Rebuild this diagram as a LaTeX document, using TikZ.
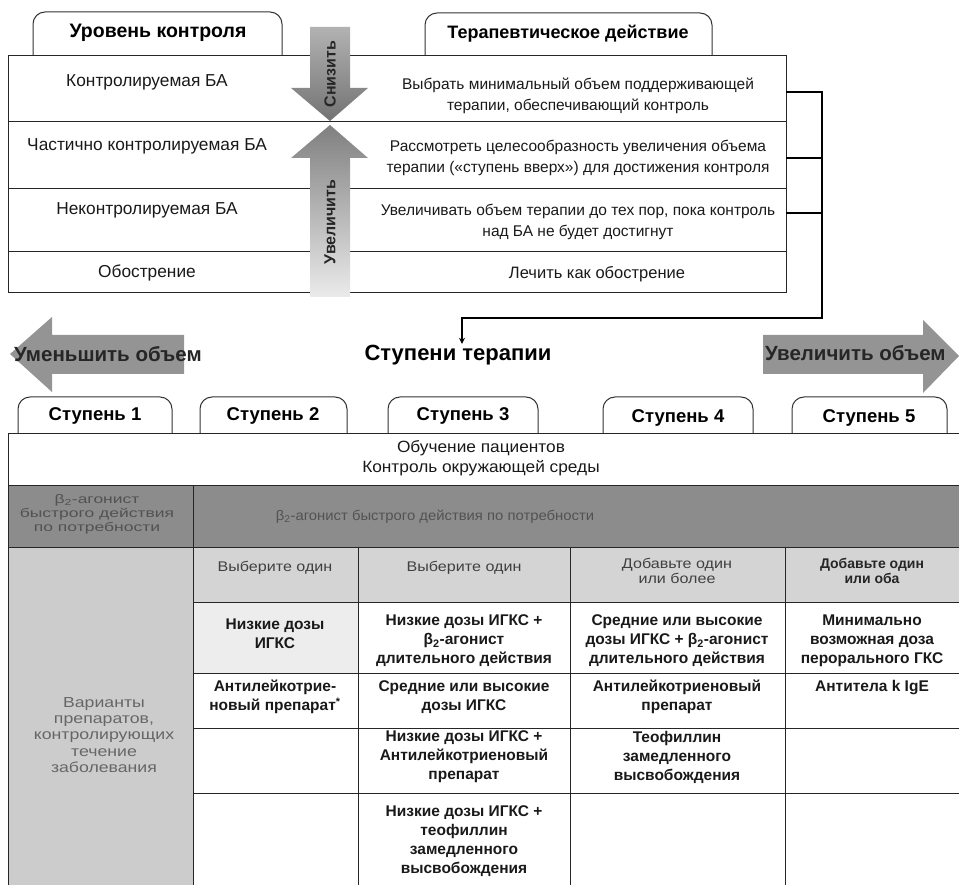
\documentclass[tikz,border=0pt]{standalone}
\usepackage{fontspec}
\setmainfont{Liberation Sans}
\newfontfamily\fwide[FakeStretch=1.4]{Liberation Sans}
\newfontfamily\fvar[FakeStretch=1.22]{Liberation Sans}
\newfontfamily\fhdr[FakeStretch=1.15]{Liberation Sans}
\newfontfamily\fmid[FakeStretch=1.06]{Liberation Sans}
\usetikzlibrary{arrows.meta}
\begin{document}
\begin{tikzpicture}[x=1pt,y=-1pt,
  tline/.style={draw=black!85, line width=1pt},
  tabbox/.style={draw=black!80, line width=1pt, rounded corners=12pt},
  toptxt/.style={font=\fontsize{15.5}{20.5}\selectfont, align=center, inner sep=0pt, text=black!90},
  lefttxt/.style={font=\fontsize{17.3}{20.5}\selectfont, align=center, inner sep=0pt, text=black!90},
  tabtxt/.style={font=\bfseries\fontsize{18}{20}\selectfont, inner sep=0pt},
  steptxt/.style={font=\bfseries\fontsize{18.5}{20}\selectfont, inner sep=0pt},
  celltxt/.style={font=\bfseries\fontsize{15.5}{19}\selectfont, align=center, inner sep=0pt, text=black!90},
  hdrtxt/.style={font=\fhdr\fontsize{14}{14.5}\selectfont, align=center, inner sep=0pt, text=black!75},
  arrtxt/.style={font=\bfseries\fontsize{20.5}{22}\selectfont, inner sep=0pt, text=black!85},
  midtxt/.style={font=\bfseries\fontsize{16}{18}\selectfont, inner sep=0pt, text=black!85, rotate=90},
  link/.style={draw=black, line width=1.3pt},
]
\useasboundingbox (0,0) rectangle (959,885);

% ---------- top table ----------
\draw[tabbox] (33,56) -- (33,12) -- (282,12) -- (282,56);
\draw[tabbox] (425,56) -- (425,13) -- (712,13) -- (712,56);
\node[tabtxt, font=\bfseries\fontsize{19.5}{20}\selectfont] (tabL) at (158,33) {Уровень контроля};
\node[tabtxt] (tabR) at (568,34) {Терапевтическое действие};

\draw[tline] (8,56) rectangle (786,293);
\foreach \y in {122,189,252} \draw[tline] (8,\y) -- (786,\y);

\node[lefttxt] (l1) at (147,82) {Контролируемая БА};
\node[lefttxt] (l2) at (147,146) {Частично контролируемая БА};
\node[lefttxt] (l3) at (147,210) {Неконтролируемая БА};
\node[lefttxt] (l4) at (147,273) {Обострение};

\node[toptxt] (r1) at (578,96) {Выбрать минимальный объем поддерживающей\\терапии, обеспечивающий контроль};
\node[toptxt] (r2) at (578,158) {Рассмотреть целесообразность увеличения объема\\терапии («ступень вверх») для достижения контроля};
\node[toptxt] (r3) at (578,222) {Увеличивать объем терапии до тех пор, пока контроль\\над БА не будет достигнут};
\node[toptxt, font=\fontsize{16.5}{20.5}\selectfont] (r4) at (597,274) {Лечить как обострение};

% middle arrows
\shade[top color=black!30, bottom color=black!55] (310,27) -- (350,27) -- (350,88) -- (368,88) -- (330,121) -- (291,88) -- (310,88) -- cycle;
\shade[top color=black!50, bottom color=black!8] (330,125) -- (368,158) -- (350,158) -- (350,297) -- (310,297) -- (310,158) -- (291,158) -- cycle;
\node[midtxt] (dn) at (330,74) {Снизить};
\node[midtxt] (up) at (330,222) {Увеличить};

% bracket connector
\coordinate (s1) at (786,92);
\coordinate (s2) at (786,158);
\coordinate (s3) at (786,213);
\coordinate (k1) at (822,92);
\coordinate (k2) at (822,158);
\coordinate (k3) at (822,213);
\coordinate (kb) at (822,318);
\coordinate (kt) at (462,318);

\node[font=\bfseries\fontsize{22}{24}\selectfont, inner sep=1pt] (st) at (458,355) {Ступени терапии};

\draw[link] (s2) -- (k2);
\draw[link] (s3) -- (k3);
\draw[link, -{Stealth[length=6pt,width=6pt]}] (s1) -- (k1) -- (kb) -- (kt) -- (kt |- st.north);

% big side arrows
\fill[black!42] (184,335) -- (52,335) -- (52,317) -- (10,354) -- (52,392) -- (52,374) -- (184,374) -- cycle;
\fill[black!42] (763,335) -- (923,335) -- (923,320) -- (959,356) -- (923,393) -- (923,374) -- (763,374) -- cycle;
\node[arrtxt, anchor=west] (dec) at (14,354) {Уменьшить объем};
\node[arrtxt, anchor=west] (inc) at (765,353) {Увеличить объем};

% ---------- step tabs ----------
\draw[tabbox] (18,433) -- (18,397) -- (172,397) -- (172,433);
\draw[tabbox] (200,433) -- (200,397) -- (347,397) -- (347,433);
\draw[tabbox] (388,433) -- (388,397) -- (538,397) -- (538,433);
\draw[tabbox] (603,433) -- (603,397) -- (753,397) -- (753,433);
\draw[tabbox] (792,433) -- (792,397) -- (947,397) -- (947,433);
\node[steptxt] (t1) at (95,416) {Ступень 1};
\node[steptxt] (t2) at (273,416) {Ступень 2};
\node[steptxt] (t3) at (463,416) {Ступень 3};
\node[steptxt] (t4) at (678,418) {Ступень 4};
\node[steptxt] (t5) at (869,418) {Ступень 5};

% ---------- bottom table ----------
\fill[black!45] (8,485) rectangle (959,547);
\fill[black!20] (8,547) rectangle (193,885);
\fill[black!17] (193,547) rectangle (959,602);
\fill[black!7] (193,602) rectangle (358,673);

\draw[tline] (959,433) -- (8,433) -- (8,885);
\draw[tline] (8,485) -- (959,485);
\draw[tline] (8,547) -- (959,547);
\draw[tline] (193,485) -- (193,885);
\foreach \x in {358,570,785} \draw[tline] (\x,547) -- (\x,885);
\foreach \y in {602,673,728,793} \draw[tline] (193,\y) -- (959,\y);

\node[toptxt, font=\fmid\fontsize{16.3}{20}\selectfont] (edu) at (481,458) {Обучение пациентов\\Контроль окружающей среды};

\node[hdrtxt, font=\fwide\fontsize{12.5}{14}\selectfont, text=black!68] (b1) at (97,514) {β\textsubscript{2}-агонист\\быстрого действия\\по потребности};
\node[hdrtxt, font=\fmid\fontsize{14}{15}\selectfont, text=black!68] (b2) at (435,517) {β\textsubscript{2}-агонист быстрого действия по потребности};

\node[hdrtxt] (h2) at (275,568) {Выберите один};
\node[hdrtxt] (h3) at (464,568) {Выберите один};
\node[hdrtxt] (h4) at (677,571) {Добавьте один\\или более};
\node[hdrtxt, font=\bfseries\fontsize{14}{14.5}\selectfont, text=black!85] (h5) at (872,571) {Добавьте один\\или оба};

\node[hdrtxt, font=\fvar\fontsize{14.5}{16.3}\selectfont, text=black!60] (var) at (104,735) {Варианты\\препаратов,\\контролирующих\\течение\\заболевания};

\node[celltxt] (c21) at (275,634) {Низкие дозы\\ИГКС};
\node[celltxt] (c31) at (464,641) {Низкие дозы ИГКС +\\β\textsubscript{2}-агонист\\длительного действия};
\node[celltxt] (c41) at (677,641) {Средние или высокие\\дозы ИГКС + β\textsubscript{2}-агонист\\длительного действия};
\node[celltxt] (c51) at (872,641) {Минимально\\возможная доза\\перорального ГКС};

\node[celltxt] (c22) at (275,697) {Антилейкотрие-\\новый препарат\textsuperscript{*}};
\node[celltxt] (c32) at (464,697) {Средние или высокие\\дозы ИГКС};
\node[celltxt] (c42) at (677,697) {Антилейкотриеновый\\препарат};
\node[celltxt] (c52) at (872,688) {Антитела k IgE};

\node[celltxt] (c33) at (464,757) {Низкие дозы ИГКС +\\Антилейкотриеновый\\препарат};
\node[celltxt] (c43) at (677,757) {Теофиллин\\замедленного\\высвобождения};

\node[celltxt] (c34) at (464,841) {Низкие дозы ИГКС +\\теофиллин\\замедленного\\высвобождения};
\end{tikzpicture}
\end{document}
